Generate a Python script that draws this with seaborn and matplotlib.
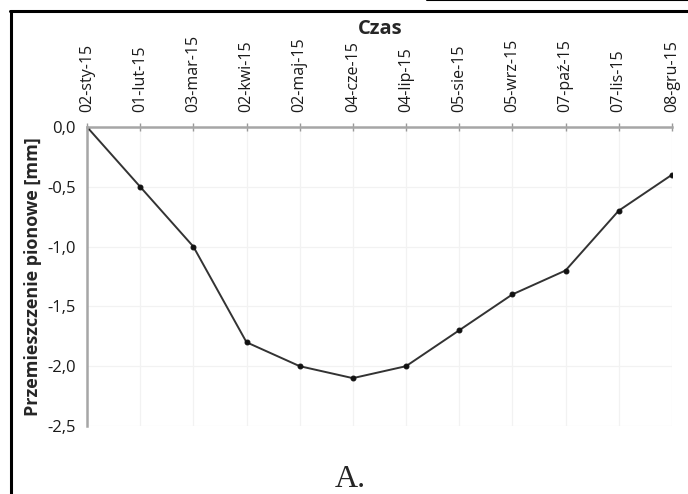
import matplotlib
matplotlib.use('Agg')
import matplotlib.pyplot as plt
import seaborn as sns
import pandas as pd
from matplotlib.lines import Line2D

# dane
daty = ['02-sty-15', '01-lut-15', '03-mar-15', '02-kwi-15', '02-maj-15', '04-cze-15',
        '04-lip-15', '05-sie-15', '05-wrz-15', '07-paź-15', '07-lis-15', '08-gru-15']
przemieszczenie = [0.0, -0.5, -1.0, -1.8, -2.0, -2.1, -2.0, -1.7, -1.4, -1.2, -0.7, -0.4]
y_ticks = [0.0, -0.5, -1.0, -1.5, -2.0, -2.5]

df = pd.DataFrame({'nr': range(len(daty)), 'wartosc': przemieszczenie})

sns.set_style('white')
plt.rcParams['font.family'] = ['Open Sans', 'DejaVu Sans']

fig = plt.figure(figsize=(6.88, 4.94), dpi=100)
ax = fig.add_axes([0.1265, 0.1377, 0.850, 0.6052])

sns.lineplot(data=df, x='nr', y='wartosc', ax=ax, color='#333333', linewidth=1.4,
             marker='o', markersize=3.5, markeredgecolor='#111111', markerfacecolor='#111111')

ax.set_xlim(0, len(daty) - 1)
ax.set_ylim(-2.5, 0)
ax.set_xticks(range(len(daty)))
ax.set_xticklabels(daty, rotation=90, fontsize=11.5, color='#1a1a1a')
ax.set_yticks(y_ticks)
ax.set_yticklabels([f'{v:.1f}'.replace('.', ',') for v in y_ticks], fontsize=12, color='#1a1a1a')

ax.xaxis.tick_top()
ax.xaxis.set_label_position('top')
ax.tick_params(axis='both', direction='inout', length=6, width=1, color='#999999')
ax.tick_params(axis='x', pad=8)
ax.tick_params(axis='y', pad=5)

for s in ['bottom', 'right']:
    ax.spines[s].set_visible(False)
for s in ['top', 'left']:
    ax.spines[s].set_color('#a6a6a6')
    ax.spines[s].set_linewidth(1.8)

ax.grid(True, color='#f2f2f2', linewidth=0.9)
ax.set_axisbelow(True)

ax.set_xlabel('')
ax.set_ylabel('Przemieszczenie pionowe [mm]', fontsize=13, fontweight='bold', labelpad=4)

fig.text(0.553, 0.942, 'Czas', fontsize=14.5, fontweight='bold', ha='center', va='center')
fig.text(0.509, 0.015, 'A.', fontsize=23, family='Liberation Serif', ha='center', va='baseline')

# ramka
fig.add_artist(Line2D([0.016, 0.016], [0.0, 0.978], transform=fig.transFigure, color='black', linewidth=2.2))
fig.add_artist(Line2D([0.015, 1.0], [0.978, 0.978], transform=fig.transFigure, color='black', linewidth=2.2))
fig.add_artist(Line2D([0.62, 1.0], [0.999, 0.999], transform=fig.transFigure, color='black', linewidth=1.5))

fig.savefig('out.png', dpi=100)
